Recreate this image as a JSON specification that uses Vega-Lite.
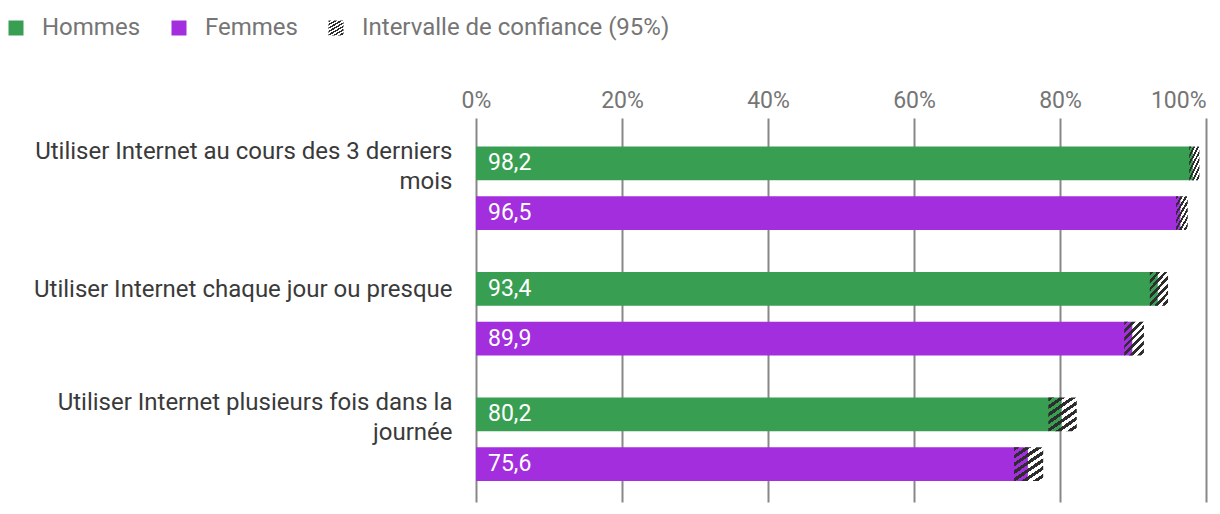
{
  "$schema": "https://vega.github.io/schema/vega-lite/v6.json",
  "width": 730,
  "height": 384,
  "autosize": {"type": "none"},
  "padding": {"left": 476, "top": 118, "right": 14, "bottom": 12},
  "background": "white",
  "config": {
    "view": {"stroke": null},
    "font": "Roboto",
    "locale": {"number": {"decimal": ",", "thousands": " ", "grouping": [3], "currency": ["", " €"]}}
  },
  "data": {
    "values": [
      {"cat": "Utiliser Internet au cours des 3 derniers|mois", "sexe": "Hommes", "value": 98.2, "lo": 97.7, "hi": 99.1},
      {"cat": "Utiliser Internet au cours des 3 derniers|mois", "sexe": "Femmes", "value": 96.5, "lo": 95.9, "hi": 97.5},
      {"cat": "Utiliser Internet chaque jour ou presque", "sexe": "Hommes", "value": 93.4, "lo": 92.3, "hi": 94.8},
      {"cat": "Utiliser Internet chaque jour ou presque", "sexe": "Femmes", "value": 89.9, "lo": 88.8, "hi": 91.5},
      {"cat": "Utiliser Internet plusieurs fois dans la|journée", "sexe": "Hommes", "value": 80.2, "lo": 78.4, "hi": 82.3},
      {"cat": "Utiliser Internet plusieurs fois dans la|journée", "sexe": "Femmes", "value": 75.6, "lo": 73.7, "hi": 77.7}
    ]
  },
  "encoding": {
    "y": {
      "field": "cat",
      "type": "nominal",
      "sort": null,
      "scale": {"paddingInner": 0, "paddingOuter": 0.03, "align": 1},
      "axis": {
        "title": null,
        "domain": false,
        "ticks": false,
        "grid": false,
        "labelExpr": "split(datum.label, '|')",
        "labelFontSize": 24,
        "labelColor": "#3a3a3a",
        "labelPadding": 24,
        "labelLineHeight": 30,
        "labelOffset": {"condition": {"test": "indexof(datum.value, '|') >= 0", "value": -36}, "value": -24},
        "labelLimit": 470,
        "labelBaseline": "middle"
      }
    },
    "yOffset": {
      "field": "sexe",
      "type": "nominal",
      "sort": ["Hommes", "Femmes"],
      "scale": {"domain": ["Hommes", "Femmes"], "paddingInner": 0.32, "paddingOuter": 0.423}
    }
  },
  "layer": [
    {
      "mark": {"type": "bar"},
      "encoding": {
        "x": {
          "field": "value",
          "type": "quantitative",
          "scale": {"domain": [0, 100], "nice": false},
          "axis": {
            "orient": "top",
            "title": null,
            "values": [0, 20, 40, 60, 80, 100],
            "labelExpr": "datum.value + '%'",
            "labelFontSize": 23,
            "labelColor": "#757575",
            "labelFlush": false,
            "labelAlign": {"condition": {"test": "datum.value == 100", "value": "right"}, "value": "center"},
            "labelPadding": 6,
            "ticks": false,
            "domain": false,
            "grid": true,
            "gridColor": "#888888",
            "gridWidth": 2,
            "zindex": 0
          }
        },
        "color": {
          "field": "sexe",
          "type": "nominal",
          "scale": {
            "domain": ["Hommes", "Femmes", "Intervalle de confiance (95%)"],
            "range": [
              "#389f52",
              "#a22edd",
              {"expr": "{gradient:'linear',x1:0,y1:0,x2:1,y2:1.7,stops:[{offset:0,color:'#2d2d2d'},{offset:0.05,color:'#2d2d2d'},{offset:0.05,color:'rgba(255,255,255,0)'},{offset:0.1,color:'rgba(255,255,255,0)'},{offset:0.1,color:'#2d2d2d'},{offset:0.15,color:'#2d2d2d'},{offset:0.15,color:'rgba(255,255,255,0)'},{offset:0.2,color:'rgba(255,255,255,0)'},{offset:0.2,color:'#2d2d2d'},{offset:0.25,color:'#2d2d2d'},{offset:0.25,color:'rgba(255,255,255,0)'},{offset:0.3,color:'rgba(255,255,255,0)'},{offset:0.3,color:'#2d2d2d'},{offset:0.35,color:'#2d2d2d'},{offset:0.35,color:'rgba(255,255,255,0)'},{offset:0.4,color:'rgba(255,255,255,0)'},{offset:0.4,color:'#2d2d2d'},{offset:0.45,color:'#2d2d2d'},{offset:0.45,color:'rgba(255,255,255,0)'},{offset:0.5,color:'rgba(255,255,255,0)'},{offset:0.5,color:'#2d2d2d'},{offset:0.55,color:'#2d2d2d'},{offset:0.55,color:'rgba(255,255,255,0)'},{offset:0.6,color:'rgba(255,255,255,0)'},{offset:0.6,color:'#2d2d2d'},{offset:0.65,color:'#2d2d2d'},{offset:0.65,color:'rgba(255,255,255,0)'},{offset:0.7,color:'rgba(255,255,255,0)'},{offset:0.7,color:'#2d2d2d'},{offset:0.75,color:'#2d2d2d'},{offset:0.75,color:'rgba(255,255,255,0)'},{offset:0.8,color:'rgba(255,255,255,0)'},{offset:0.8,color:'#2d2d2d'},{offset:0.85,color:'#2d2d2d'},{offset:0.85,color:'rgba(255,255,255,0)'},{offset:0.9,color:'rgba(255,255,255,0)'},{offset:0.9,color:'#2d2d2d'},{offset:0.95,color:'#2d2d2d'},{offset:0.95,color:'rgba(255,255,255,0)'},{offset:1,color:'rgba(255,255,255,0)'}]}"}
            ]
          },
          "legend": {
            "title": null,
            "orient": "none",
            "legendX": -472,
            "legendY": -102,
            "direction": "horizontal",
            "symbolType": "square",
            "symbolSize": 225,
            "symbolStrokeWidth": 0,
            "labelFontSize": 24,
            "labelColor": "#757575",
            "labelOffset": 14,
            "columnPadding": 26,
            "labelLimit": 400
          }
        }
      }
    },
    {
      "mark": {"type": "bar"},
      "encoding": {
        "x": {"field": "lo", "type": "quantitative"},
        "x2": {"field": "hi"},
        "color": {"datum": "Intervalle de confiance (95%)"}
      }
    },
    {
      "mark": {"type": "text", "align": "left", "baseline": "middle", "dx": 12, "fontSize": 23, "color": "white"},
      "encoding": {
        "x": {"datum": 0, "type": "quantitative"},
        "text": {"field": "value", "type": "quantitative", "format": ".1f"}
      }
    }
  ]
}
